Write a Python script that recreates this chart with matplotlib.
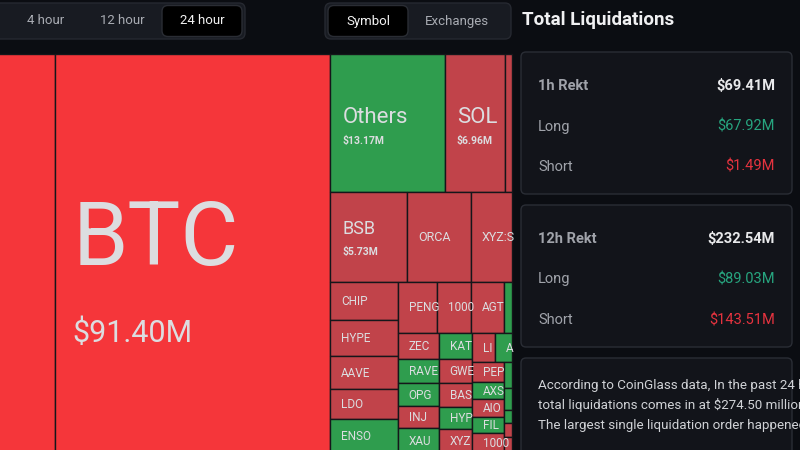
import matplotlib.pyplot as plt
from matplotlib.patches import Rectangle, FancyBboxPatch

plt.rcParams['font.family'] = ['Roboto', 'DejaVu Sans']

# ---- data (values in $M, side = which liquidations dominate) ----
total_24h = 274.50
btc = ("BTC", 91.40, "long")
top_row = [("Others", 13.17, "short"), ("SOL", 6.96, "long"), ("", 0.80, "long")]
mid_row = [("BSB", 5.73, "long"), ("ORCA", 4.75, "long"), ("XYZ:S", 3.05, "long")]
col_chip = [("CHIP", 2.18, "long"), ("HYPE", 2.01, "long"), ("AAVE", 1.84, "long"),
            ("LDO", 1.68, "long"), ("ENSO", 1.90, "short")]
row_peng = [("PENG", 1.69, "long"), ("1000", 1.47, "long"), ("AGT", 1.43, "long"),
            ("", 0.35, "short")]
col_zec = [("ZEC", 0.89, "long"), ("RAVE", 0.82, "short"), ("OPG", 0.79, "short"),
           ("INJ", 0.75, "long"), ("XAU", 0.85, "short")]
col_kat = [("KAT", 0.72, "short"), ("GWE", 0.66, "long"), ("BAS", 0.66, "long"),
           ("HYP", 0.61, "short"), ("XYZ", 0.66, "long")]
row_li = [("LI", 0.56, "long"), ("A", 0.41, "short")]
col_pep = [("PEP", 0.53, "long"), ("AXS", 0.45, "short"), ("AIO", 0.48, "long"),
           ("FIL", 0.43, "short"), ("1000", 0.53, "long")]
col_tiny = [("", 0.17, "short"), ("", 0.15, "short"), ("", 0.09, "short"),
            ("", 0.09, "long"), ("", 0.11, "long")]

rekt_1h = {"total": "$69.41M", "long": "$67.92M", "short": "$1.49M"}
rekt_12h = {"total": "$232.54M", "long": "$89.03M", "short": "$143.51M"}
summary_lines = ["According to CoinGlass data, In the past 24 hours,",
                 "total liquidations comes in at $274.50 million,",
                 "The largest single liquidation order happened"]
time_tabs = ["4 hour", "12 hour", "24 hour"]
view_tabs = ["Symbol", "Exchanges"]


def total(node):
    if len(node) == 3:
        return node[1]
    return sum(total(c) for c in node[1])


# nested slice structure of the treemap ('h' = side by side, 'v' = stacked)
right_col = ('v', [('h', top_row),
                   ('v', [('h', mid_row),
                          ('h', [('v', col_chip),
                                 ('v', [('h', row_peng),
                                        ('h', [('v', col_zec), ('v', col_kat),
                                               ('v', [('h', row_li),
                                                      ('h', [('v', col_pep), ('v', col_tiny)])])])])])])])
rest = total(btc) + total(right_col)
eth = ("ETH", total_24h - rest, "long")
treemap = ('h', [eth, btc, right_col])


def layout(node, x, y, w, h, out):
    if len(node) == 3:
        out.append((node, x, y, w, h))
        return
    direction, children = node
    s = total(node)
    pos = x if direction == 'h' else y
    for c in children:
        frac = total(c) / s
        if direction == 'h':
            layout(c, pos, y, w * frac, h, out)
            pos += w * frac
        else:
            layout(c, x, pos, w, h * frac, out)
            pos += h * frac


# ---- figure ----
BG = '#0b0d12'
fig = plt.figure(figsize=(8, 4.5), dpi=100, facecolor=BG)
ax = fig.add_axes([0, 0, 1, 1])
ax.set_xlim(0, 800)
ax.set_ylim(450, 0)
ax.axis('off')
ax.set_facecolor(BG)

# treemap geometry: area per $M in px^2
TREE_RIGHT, TREE_TOP, TREE_H, AREA_PER_M = 512, 54, 399, 1200
tree_w = total(treemap) * AREA_PER_M / TREE_H
tiles = []
layout(treemap, TREE_RIGHT - tree_w, TREE_TOP, tree_w, TREE_H, tiles)

# label tiers: min value, name size, value size, name dy, value dy, dx
tiers = [(50, 64, 22, 11.5, 88.5, 17),
         (6, 16, 7.5, -0.5, 20.5, 12),
         (5, 13, 7.5, -2.5, 18.5, 12),
         (3, 9, None, 4.5, 0, 11),
         (0, 8.5, None, 4.0, 0, 11)]
TXT = '#dcdde0'

for (name, val, side), x, y, w, h in tiles:
    if side == "short":
        fc = '#2f9d4e'
    elif val >= 50:
        fc = '#f5363a'
    else:
        fc = '#c1434a'
    rect = Rectangle((x, y), w, h, facecolor=fc, edgecolor='#15161a', linewidth=1)
    ax.add_patch(rect)
    tier = next(t for t in tiers if val >= t[0])
    _, nfs, vfs, ndy, vdy, dx = tier
    # the tile's label sits outside the visible window -> not shown
    if not name or x + dx < 0:
        continue
    cy = y + h / 2
    t = ax.text(x + dx, cy + ndy, name, fontsize=nfs, color=TXT, va='baseline', ha='left')
    t.set_clip_path(rect)
    if vfs:
        t2 = ax.text(x + dx, cy + vdy, f"${val:.2f}M", fontsize=vfs, color=TXT,
                     va='baseline', ha='left',
                     fontweight='normal' if val >= 50 else 'bold')
        t2.set_clip_path(rect)

# ---- header tabs ----
def box(x0, y0, x1, y1, fc, ec, r=6, lw=1):
    ax.add_patch(FancyBboxPatch((x0, y0), x1 - x0, y1 - y0,
                                boxstyle=f"round,pad=0,rounding_size={r}",
                                facecolor=fc, edgecolor=ec, linewidth=lw))

box(-20, 3, 245, 39, '#181b22', '#262931')
box(162, 5.5, 242, 36.5, '#000000', '#2a2d34')
for label, cx in zip(time_tabs, [46, 122, 202]):
    ax.text(cx, 21, label, fontsize=9.5, ha='center', va='center',
            color='#f2f2f2' if label == "24 hour" else '#a9acb3')

box(325, 3, 511, 39, '#181b22', '#262931')
box(328, 5.5, 408, 36.5, '#000000', '#2a2d34')
for label, cx in zip(view_tabs, [368, 457]):
    ax.text(cx, 21, label, fontsize=9.5, ha='center', va='center',
            color='#f2f2f2' if label == "Symbol" else '#a9acb3')

# ---- right panel ----
ax.text(522, 20, "Total Liquidations", fontsize=13.5, fontweight='bold',
        color='#f0f0f2', ha='left', va='center')

CARD, EDGE = '#12141a', '#2a2d35'
GREEN, RED = '#27a57f', '#e5333f'
for (y0, y1), period, d in [((52, 194), "1h", rekt_1h), ((205, 347), "12h", rekt_12h)]:
    box(521, y0, 792, y1, CARD, EDGE, r=5)
    rows = [(f"{period} Rekt", d["total"], '#e8e9eb', 'bold'),
            ("Long", d["long"], GREEN, 'normal'),
            ("Short", d["short"], RED, 'normal')]
    for i, (lab, v, c, wt) in enumerate(rows):
        yy = y0 + 34 + i * 40.5
        ax.text(538, yy, lab, fontsize=10.5, color='#a0a3aa', ha='left', va='center',
                fontweight='bold' if i == 0 else 'normal')
        ax.text(775, yy, v, fontsize=10.5, color=c, ha='right', va='center', fontweight=wt)

box(521, 358, 792, 480, CARD, EDGE, r=5)
for i, line in enumerate(summary_lines):
    ax.text(538, 385 + i * 20, line, fontsize=9.6, color='#d0d2d6', ha='left', va='center')

fig.savefig('out.png', dpi=100, facecolor=BG)
